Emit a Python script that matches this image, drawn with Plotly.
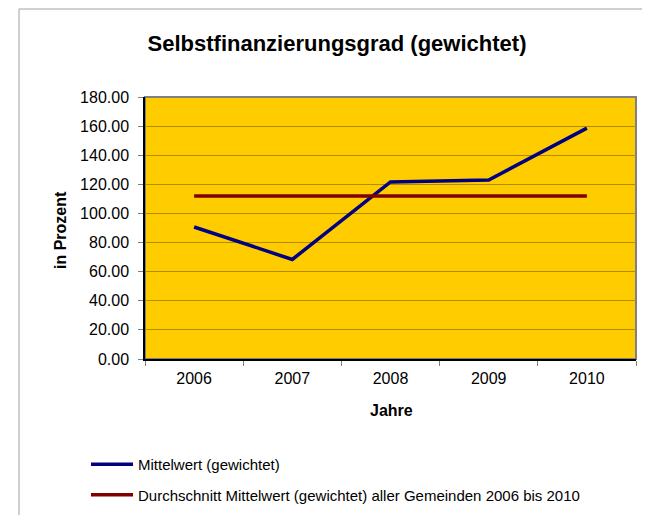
import plotly.graph_objects as go

# data
jahre = ['2006', '2007', '2008', '2009', '2010']
mittelwert = [90.7, 68.4, 121.6, 123.0, 158.6]
durchschnitt = [112.0, 112.0, 112.0, 112.0, 112.0]
y_ticks = [0, 20, 40, 60, 80, 100, 120, 140, 160, 180]

# the page puts the figure 8px in from the top left corner
OFF = 8
W, H = 650 - OFF, 515 - OFF
L, R, T, B = 145 - OFF, 14, 97 - OFF, 515 - 359
pw, ph = W - L - R, H - T - B

def px_x(x):
    # page pixel -> paper coordinate
    return (x - OFF - L) / pw

def px_y(y):
    return (H - B - (y - OFF)) / ph

font = 'Liberation Sans, Arial, sans-serif'

fig = go.Figure()
fig.add_trace(go.Scatter(
    x=jahre, y=mittelwert, mode='lines', name='Mittelwert (gewichtet)',
    line=dict(color='#000080', width=3.5), legendgroup='a'))
fig.add_trace(go.Scatter(
    x=jahre, y=durchschnitt, mode='lines',
    name='Durchschnitt Mittelwert (gewichtet) aller Gemeinden 2006 bis 2010',
    line=dict(color='#800000', width=3.5), legendgroup='b'))

fig.update_layout(
    width=W, height=H,
    margin=dict(l=L, r=R, t=T, b=B, autoexpand=False),
    paper_bgcolor='white',
    plot_bgcolor='#FFCC00',
    font=dict(family=font, size=15, color='black'),
    title=dict(text='<b>Selbstfinanzierungsgrad (gewichtet)</b>',
               font=dict(size=22), xref='container', x=(337 - OFF) / W,
               yref='container', y=1 - (43 - OFF) / H, xanchor='center', yanchor='middle'),
    showlegend=True,
    legend=dict(x=px_x(86), y=px_y(448), xanchor='left', yanchor='top',
                font=dict(size=15), tracegroupgap=8, itemwidth=42,
                bgcolor='rgba(0,0,0,0)'),
    shapes=[
        dict(type='rect', xref='paper', yref='paper', x0=0, x1=1, y0=0, y1=1,
             line=dict(color='#808080', width=2), layer='below'),
        dict(type='line', xref='paper', yref='paper', x0=px_x(19), x1=px_x(19),
             y0=px_y(9), y1=px_y(520), line=dict(color='#A0A0A0', width=1)),
        dict(type='line', xref='paper', yref='paper', x0=px_x(19), x1=px_x(655),
             y0=px_y(9), y1=px_y(9), line=dict(color='#A0A0A0', width=1)),
    ],
    annotations=[
        dict(text='<b>in Prozent</b>', xref='paper', yref='paper',
             x=px_x(60), y=px_y(230), textangle=-90, showarrow=False,
             xanchor='center', yanchor='middle', font=dict(size=16)),
        dict(text='<b>Jahre</b>', xref='paper', yref='paper',
             x=px_x(391), y=px_y(410), showarrow=False,
             xanchor='center', yanchor='middle', font=dict(size=16)),
    ],
)

fig.update_xaxes(
    type='category', range=[-0.5, 4.5], showline=True, linecolor='black', linewidth=1.5,
    ticks='outside', tickson='boundaries', ticklen=5, tickcolor='#808080',
    showgrid=False, tickfont=dict(size=16), ticklabelstandoff=4)
fig.update_yaxes(
    range=[0, 180], tickvals=y_ticks, tickformat='.2f',
    showline=True, linecolor='black', linewidth=1.5,
    ticks='outside', ticklen=5, tickcolor='#808080',
    showgrid=True, gridcolor='#B08D00', gridwidth=1, zeroline=False,
    tickfont=dict(size=16), ticklabelstandoff=6)

fig.write_html('out.html')
